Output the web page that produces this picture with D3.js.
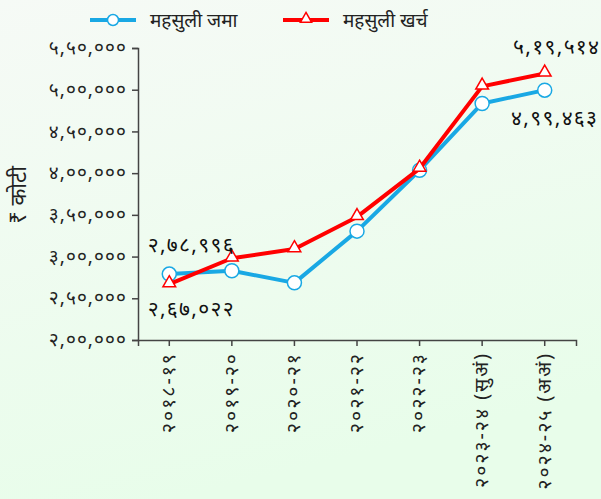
<!DOCTYPE html>
<html><head><meta charset="utf-8">
<script src="https://cdn.jsdelivr.net/npm/d3@7"></script>
<style>html,body{margin:0;padding:0;}svg{display:block;}</style>
</head><body>
<svg id="c" width="601" height="499"></svg>
<script>
const categories = ["२०१८-१९","२०१९-२०","२०२०-२१","२०२१-२२","२०२२-२३","२०२३-२४ (सुअं)","२०२४-२५ (अअं)"];
const jamaValues = [278996, 283000, 268500, 330500, 403500, 483500, 499463];
const kharchValues = [267022, 298000, 309000, 347500, 405500, 504000, 519514];
const yTickValues = [200000,250000,300000,350000,400000,450000,500000,550000];
const yTickLabels = ["२,००,०००","२,५०,०००","३,००,०००","३,५०,०००","४,००,०००","४,५०,०००","५,००,०००","५,५०,०००"];
const seriesNames = ["महसुली जमा","महसुली खर्च"];
const yAxisTitle = "₹ कोटी";
const pointLabels = [
  {series:0, idx:0, text:"२,७८,९९६", dx:22, dy:-29},
  {series:1, idx:0, text:"२,६७,०२२", dx:22, dy:25},
  {series:1, idx:6, text:"५,१९,५१४", dx:12, dy:-27},
  {series:0, idx:6, text:"४,९९,४६३", dx:10, dy:27}
];

const blue = "#19a8e4", red = "#ff0000";
const font = "'Noto Sans', 'Lohit Devanagari', 'FreeSans', sans-serif";
const svg = d3.select("#c");
const defs = svg.append("defs");
const g = defs.append("linearGradient").attr("id","bg").attr("x1","0").attr("y1","0").attr("x2","0.3").attr("y2","1");
g.append("stop").attr("offset","0").attr("stop-color","#f6faf6");
g.append("stop").attr("offset","1").attr("stop-color","#e8fdea");
svg.append("rect").attr("width",601).attr("height",499).attr("fill","url(#bg)");

const x = d3.scaleBand().domain(categories).range([138,576]).padding(0);
const y = d3.scaleLinear().domain([200000,550000]).range([340,48]);
const cx = d => x(d) + x.bandwidth()/2;

// axes
const yAxis = d3.axisLeft(y).tickValues(yTickValues).tickFormat((d,i)=>yTickLabels[i]).tickSizeInner(6).tickSizeOuter(6).tickPadding(5);
const ya = svg.append("g").attr("transform","translate(138,0)").call(yAxis);
ya.selectAll("text").attr("font-size",19).attr("letter-spacing","1.1px").attr("font-family",font).attr("fill","#222").attr("dy","0.3em");
const xAxis = d3.axisBottom(x).tickSizeInner(6).tickSizeOuter(6).tickPadding(6);
const xa = svg.append("g").attr("transform","translate(0,340)").call(xAxis);
xa.selectAll("text").attr("font-size",19.5).attr("letter-spacing","2px").attr("font-family",font).attr("fill","#222")
  .attr("transform","rotate(-90)").attr("text-anchor","end").attr("dy","0.3em").attr("x",-12).attr("y",0);
svg.selectAll(".domain, .tick line").attr("stroke","#444").attr("stroke-width",1.5);

svg.append("text").attr("transform","translate(26,195) rotate(-90)").attr("text-anchor","middle")
  .attr("font-size",22).attr("font-family",font).attr("fill","#222").text(yAxisTitle);

const line = d3.line().x((d,i)=>cx(categories[i])).y(d=>y(d));
const tri = d3.symbol().type(d3.symbolTriangle).size(70);

function drawSeries(vals, color, marker){
  svg.append("path").datum(vals).attr("d",line).attr("fill","none").attr("stroke",color).attr("stroke-width",4).attr("stroke-linejoin","round");
  vals.forEach((v,i)=>{
    if(marker==="circle"){
      svg.append("circle").attr("cx",cx(categories[i])).attr("cy",y(v)).attr("r",7).attr("fill","#fff").attr("stroke",color).attr("stroke-width",1.5);
    } else {
      svg.append("path").attr("d",tri).attr("transform",`translate(${cx(categories[i])},${y(v)-1})`).attr("fill","#fff").attr("stroke",color).attr("stroke-width",1.5);
    }
  });
}
drawSeries(jamaValues, blue, "circle");
drawSeries(kharchValues, red, "triangle");

const allVals = [jamaValues, kharchValues];
pointLabels.forEach(p=>{
  const px = cx(categories[p.idx]), py = y(allVals[p.series][p.idx]);
  svg.append("text").attr("x", px + p.dx).attr("y", py + p.dy).attr("dy","0.35em")
    .attr("text-anchor","middle").attr("font-size",21).attr("letter-spacing","1.3px").attr("font-family",font).attr("fill","#111").text(p.text);
});

// legend
const leg = [{x:90, color:blue, m:"circle"},{x:283, color:red, m:"triangle"}];
leg.forEach((l,i)=>{
  svg.append("line").attr("x1",l.x).attr("x2",l.x+46).attr("y1",20).attr("y2",20).attr("stroke",l.color).attr("stroke-width",4);
  if(l.m==="circle") svg.append("circle").attr("cx",l.x+23).attr("cy",20).attr("r",5.5).attr("fill","#fff").attr("stroke",l.color).attr("stroke-width",1.5);
  else svg.append("path").attr("d",d3.symbol().type(d3.symbolTriangle).size(55)).attr("transform",`translate(${l.x+23},19)`).attr("fill","#fff").attr("stroke",l.color).attr("stroke-width",1.5);
  svg.append("text").attr("x",l.x+60).attr("y",27).attr("font-size",19).attr("font-family",font).attr("fill","#222").text(seriesNames[i]);
});
</script>
</body></html>
